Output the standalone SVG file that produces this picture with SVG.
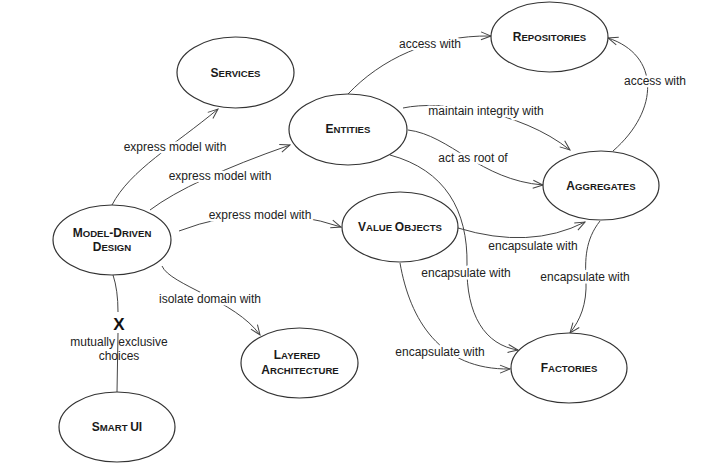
<svg xmlns="http://www.w3.org/2000/svg" width="702" height="465" viewBox="0 0 702 465">
<style>
.node ellipse{fill:#fff;stroke:#333;stroke-width:1.2}
.nt{font-family:"Liberation Sans",Arial,sans-serif;font-weight:bold;font-size:12px;fill:#1a1a1a;text-anchor:middle}
.sc{font-size:9.6px}
.edge{fill:none;stroke:#444;stroke-width:1}
.arr{marker-end:url(#ah)}
.lbl{font-family:"Liberation Sans",Arial,sans-serif;font-size:12px;fill:#222;text-anchor:middle;stroke:#fff;stroke-width:5;stroke-linejoin:round;paint-order:stroke}
.plain{font-family:"Liberation Sans",Arial,sans-serif;font-size:12px;fill:#222;text-anchor:middle}
</style>
<defs>
<marker id="ah" viewBox="0 0 12 10" refX="11" refY="5" markerWidth="12" markerHeight="10" markerUnits="userSpaceOnUse" orient="auto">
<path d="M1,1 L11,5 L1,9" fill="none" stroke="#444" stroke-width="1"/>
</marker>
</defs>
<rect width="702" height="465" fill="#fff"/>
<g id="connectors">
<path class="edge arr" d="M112,205 C130,170 175,145 218,109"/>
<path class="edge arr" d="M150,210 Q190,180 290,145"/>
<path class="edge arr" d="M179,231 Q260,200 341,227"/>
<path class="edge arr" d="M162,266 C170,285 235,300 260,335"/>
<path class="edge" d="M113,275 Q118,290 118,312"/>
<path class="edge" d="M118,333 L117,392"/>
<path class="edge arr" d="M348,94 C380,60 430,35 491,36"/>
<path class="edge arr" d="M403,108 C440,100 520,110 570,150"/>
<path class="edge arr" d="M408,130 C450,135 480,180 543,185"/>
<path class="edge arr" d="M613,151 C660,110 660,55 608,38"/>
<path class="edge arr" d="M390,155 C445,170 468,210 467,265 C466,315 485,345 518,350"/>
<path class="edge arr" d="M458,228 Q530,250 585,222"/>
<path class="edge arr" d="M600,221 C585,240 585,260 586,280 C587,305 580,320 570,333"/>
<path class="edge arr" d="M400,263 C410,320 440,370 510,369"/>
<text class="lbl" x="175" y="151">express model with</text>
<text class="lbl" x="220" y="180">express model with</text>
<text class="lbl" x="260" y="219">express model with</text>
<text class="lbl" x="210" y="303">isolate domain with</text>
<text class="lbl" x="430" y="48">access with</text>
<text class="lbl" x="486" y="115">maintain integrity with</text>
<text class="lbl" x="473" y="162">act as root of</text>
<text class="lbl" x="655" y="85">access with</text>
<text class="lbl" x="533" y="250">encapsulate with</text>
<text class="lbl" x="466" y="277">encapsulate with</text>
<text class="lbl" x="585" y="281">encapsulate with</text>
<text class="lbl" x="440" y="356">encapsulate with</text>
<text x="119" y="330" font-family="Liberation Sans,Arial,sans-serif" font-weight="bold" font-size="17" fill="#111" text-anchor="middle">X</text>
<text class="plain" x="119" y="346">mutually exclusive</text>
<text class="plain" x="119" y="360">choices</text>
</g>
<g id="services" class="node">
<ellipse cx="235.5" cy="72.5" rx="58.5" ry="35.5"/>
<text class="nt" x="235.5" y="77">S<tspan class="sc">ERVICES</tspan></text>
</g>
<g id="entities" class="node">
<ellipse cx="348" cy="129.5" rx="59" ry="35.5"/>
<text class="nt" x="348" y="133">E<tspan class="sc">NTITIES</tspan></text>
</g>
<g id="repositories" class="node">
<ellipse cx="549.5" cy="37" rx="58.5" ry="35"/>
<text class="nt" x="549.5" y="41">R<tspan class="sc">EPOSITORIES</tspan></text>
</g>
<g id="aggregates" class="node">
<ellipse cx="601" cy="185.5" rx="58" ry="34.5"/>
<text class="nt" x="601" y="190">A<tspan class="sc">GGREGATES</tspan></text>
</g>
<g id="value-objects" class="node">
<ellipse cx="400" cy="227" rx="58" ry="35"/>
<text class="nt" x="400" y="231">V<tspan class="sc">ALUE </tspan>O<tspan class="sc">BJECTS</tspan></text>
</g>
<g id="factories" class="node">
<ellipse cx="569" cy="368" rx="58" ry="35"/>
<text class="nt" x="569" y="372">F<tspan class="sc">ACTORIES</tspan></text>
</g>
<g id="model-driven-design" class="node">
<ellipse cx="112" cy="240" rx="59" ry="35"/>
<text class="nt" x="112" y="237">M<tspan class="sc">ODEL</tspan>-D<tspan class="sc">RIVEN</tspan></text>
<text class="nt" x="112" y="251">D<tspan class="sc">ESIGN</tspan></text>
</g>
<g id="layered-architecture" class="node">
<ellipse cx="299.5" cy="363" rx="58.5" ry="35"/>
<text class="nt" x="297" y="359">L<tspan class="sc">AYERED</tspan></text>
<text class="nt" x="300" y="374">A<tspan class="sc">RCHITECTURE</tspan></text>
</g>
<g id="smart-ui" class="node">
<ellipse cx="117" cy="427" rx="58" ry="35"/>
<text class="nt" x="117" y="431">S<tspan class="sc">MART </tspan>UI</text>
</g>
</svg>
